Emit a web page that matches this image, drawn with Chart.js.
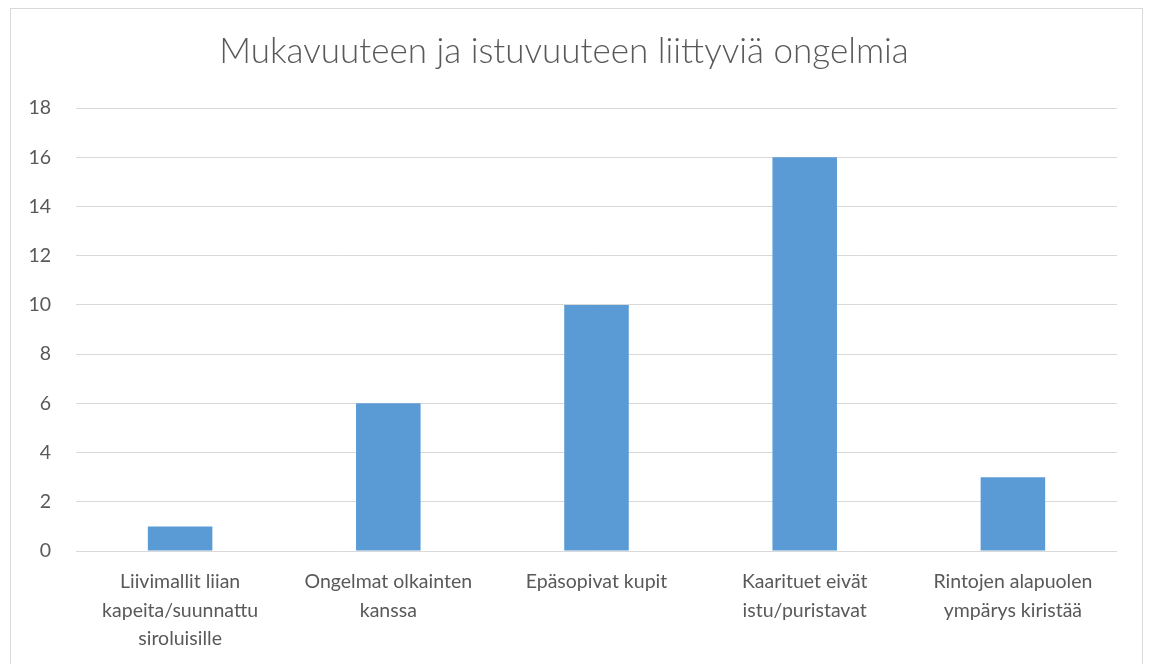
<!DOCTYPE html>
<html>
<head>
<meta charset="utf-8">
<script src="https://cdn.jsdelivr.net/npm/chart.js@4"></script>
<style>
    body { margin: 0; background: #fff; overflow: hidden; }
    #chartBox {
        position: absolute;
        left: 10px;
        top: 8px;
        width: 1131px;
        height: 680px;
        border: 1px solid #d9d9d9;
    }
</style>
</head>
<body>
<div id="chartBox"><canvas id="problemsChart"></canvas></div>
<script>
    const chartTitle = 'Mukavuuteen ja istuvuuteen liittyviä ongelmia';
    const categories = [
        ['Liivimallit liian', 'kapeita/suunnattu', 'siroluisille'],
        ['Ongelmat olkainten', 'kanssa'],
        ['Epäsopivat kupit'],
        ['Kaarituet eivät', 'istu/puristavat'],
        ['Rintojen alapuolen', 'ympärys kiristää']
    ];
    const answers = [1, 6, 10, 16, 3];
    const yMax = 18;
    const yStep = 2;

    const textColor = '#595959';
    const gridColor = '#d9d9d9';
    const barColor = '#5b9bd5';
    const fontFamily = 'Lato, "Open Sans", sans-serif';

    document.addEventListener('DOMContentLoaded', function() {
        const ctx = document.getElementById('problemsChart').getContext('2d');
        new Chart(ctx, {
            type: 'bar',
            data: {
                labels: categories,
                datasets: [{
                    data: answers,
                    backgroundColor: barColor,
                    borderWidth: 0,
                    barPercentage: 1,
                    categoryPercentage: 0.31
                }]
            },
            options: {
                responsive: true,
                maintainAspectRatio: false,
                animation: false,
                layout: { padding: { left: 0, right: 25, top: 0, bottom: 0 } },
                plugins: {
                    legend: { display: false },
                    tooltip: { enabled: false },
                    title: {
                        display: true,
                        text: chartTitle,
                        color: textColor,
                        font: { family: fontFamily, size: 35, weight: 300, lineHeight: 1.2 },
                        padding: { top: 22, bottom: 35 }
                    }
                },
                scales: {
                    x: {
                        grid: { display: false, drawTicks: false },
                        border: { display: false },
                        ticks: {
                            color: textColor,
                            font: { family: fontFamily, size: 19.5, lineHeight: 1.45 },
                            padding: 17,
                            autoSkip: false,
                            maxRotation: 0
                        },
                        afterFit: function(scale) { scale.height = 138; }
                    },
                    y: {
                        min: 0,
                        max: yMax,
                        ticks: {
                            stepSize: yStep,
                            color: textColor,
                            font: { family: fontFamily, size: 19.5 },
                            padding: 25
                        },
                        grid: { color: gridColor, lineWidth: 1, drawTicks: false },
                        border: { display: false },
                        afterFit: function(scale) { scale.width = 65; }
                    }
                }
            }
        });
    });
</script>
</body>
</html>
